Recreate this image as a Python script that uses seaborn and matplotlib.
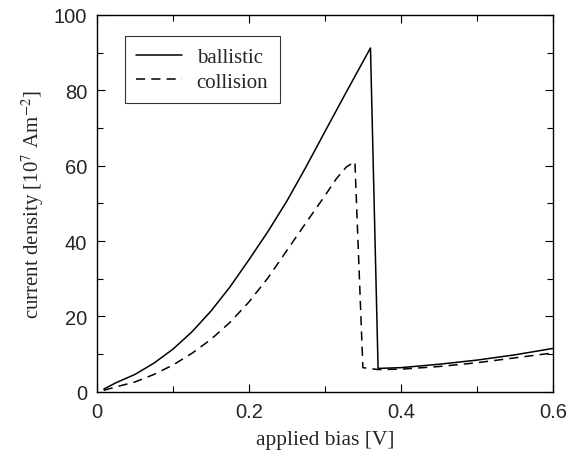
import matplotlib
matplotlib.use("Agg")
import matplotlib.pyplot as plt
import seaborn as sns
import pandas as pd
from matplotlib.ticker import MultipleLocator

ballistic_x = [0.009, 0.025, 0.05, 0.075, 0.10, 0.125, 0.15, 0.175, 0.20, 0.225, 0.25,
               0.275, 0.30, 0.326, 0.345, 0.360, 0.370, 0.40, 0.45, 0.50, 0.55, 0.60]
ballistic_y = [0.7, 2.4, 4.6, 7.6, 11.3, 15.9, 21.4, 27.8, 35.0, 42.5, 50.6,
               59.6, 69.0, 78.7, 85.7, 91.2, 6.2, 6.4, 7.3, 8.4, 9.8, 11.5]
collision_x = [0.009, 0.025, 0.05, 0.075, 0.10, 0.125, 0.15, 0.175, 0.20, 0.225, 0.25,
               0.275, 0.30, 0.315, 0.3285, 0.3395, 0.350, 0.370, 0.40, 0.45, 0.50, 0.55, 0.60]
collision_y = [0.4, 1.3, 2.6, 4.6, 7.1, 10.2, 13.9, 18.4, 23.8, 30.2, 37.5,
               44.8, 52.0, 56.5, 59.7, 61.0, 6.4, 5.9, 6.0, 6.7, 7.7, 9.0, 10.3]
labels = ["ballistic", "collision"]

sns.set_theme(style="ticks")
plt.rcParams["font.family"] = ["Liberation Serif", "DejaVu Serif"]
plt.rcParams["mathtext.fontset"] = "stix"

df_b = pd.DataFrame({"x": ballistic_x, "y": ballistic_y})
df_c = pd.DataFrame({"x": collision_x, "y": collision_y})

fig = plt.figure(figsize=(5.67, 4.52), dpi=100)
ax = fig.add_axes([0.171, 0.131, 0.804, 0.834])

sns.lineplot(data=df_b, x="x", y="y", ax=ax, color="black", lw=1.1,
             label=labels[0], sort=False, estimator=None)
sns.lineplot(data=df_c, x="x", y="y", ax=ax, color="black", lw=1.1,
             linestyle=(0, (6, 4)), label=labels[1], sort=False, estimator=None)

ax.set_xlim(0, 0.6)
ax.set_ylim(0, 100)
ax.xaxis.set_major_locator(MultipleLocator(0.2))
ax.xaxis.set_minor_locator(MultipleLocator(0.1))
ax.yaxis.set_major_locator(MultipleLocator(20))
ax.yaxis.set_minor_locator(MultipleLocator(10))
ax.set_xticks([0, 0.2, 0.4, 0.6])
ax.set_xticklabels(["0", "0.2", "0.4", "0.6"])
ax.tick_params(which="both", direction="in", top=True, right=True, color="black", width=0.8)
ax.tick_params(which="major", length=6, pad=7)
ax.tick_params(which="minor", length=4)
for lab in ax.get_xticklabels() + ax.get_yticklabels():
    lab.set_family("Liberation Sans")
    lab.set_fontsize(14.5)
for s in ax.spines.values():
    s.set_color("black")
    s.set_linewidth(1.0)

ax.set_xlabel("applied bias [V]", fontsize=15.5, labelpad=7)
ax.set_ylabel(r"current density [10$^{7}$ Am$^{-2}$]", fontsize=15, labelpad=6)

leg = ax.legend(loc="upper left", bbox_to_anchor=(0.061, 0.944), borderaxespad=0,
                fontsize=15, frameon=True, fancybox=False, handlelength=2.2,
                borderpad=0.55, labelspacing=0.25, handletextpad=0.7)
leg.get_frame().set_edgecolor("black")
leg.get_frame().set_linewidth(0.8)

fig.savefig("out.png", dpi=100)
